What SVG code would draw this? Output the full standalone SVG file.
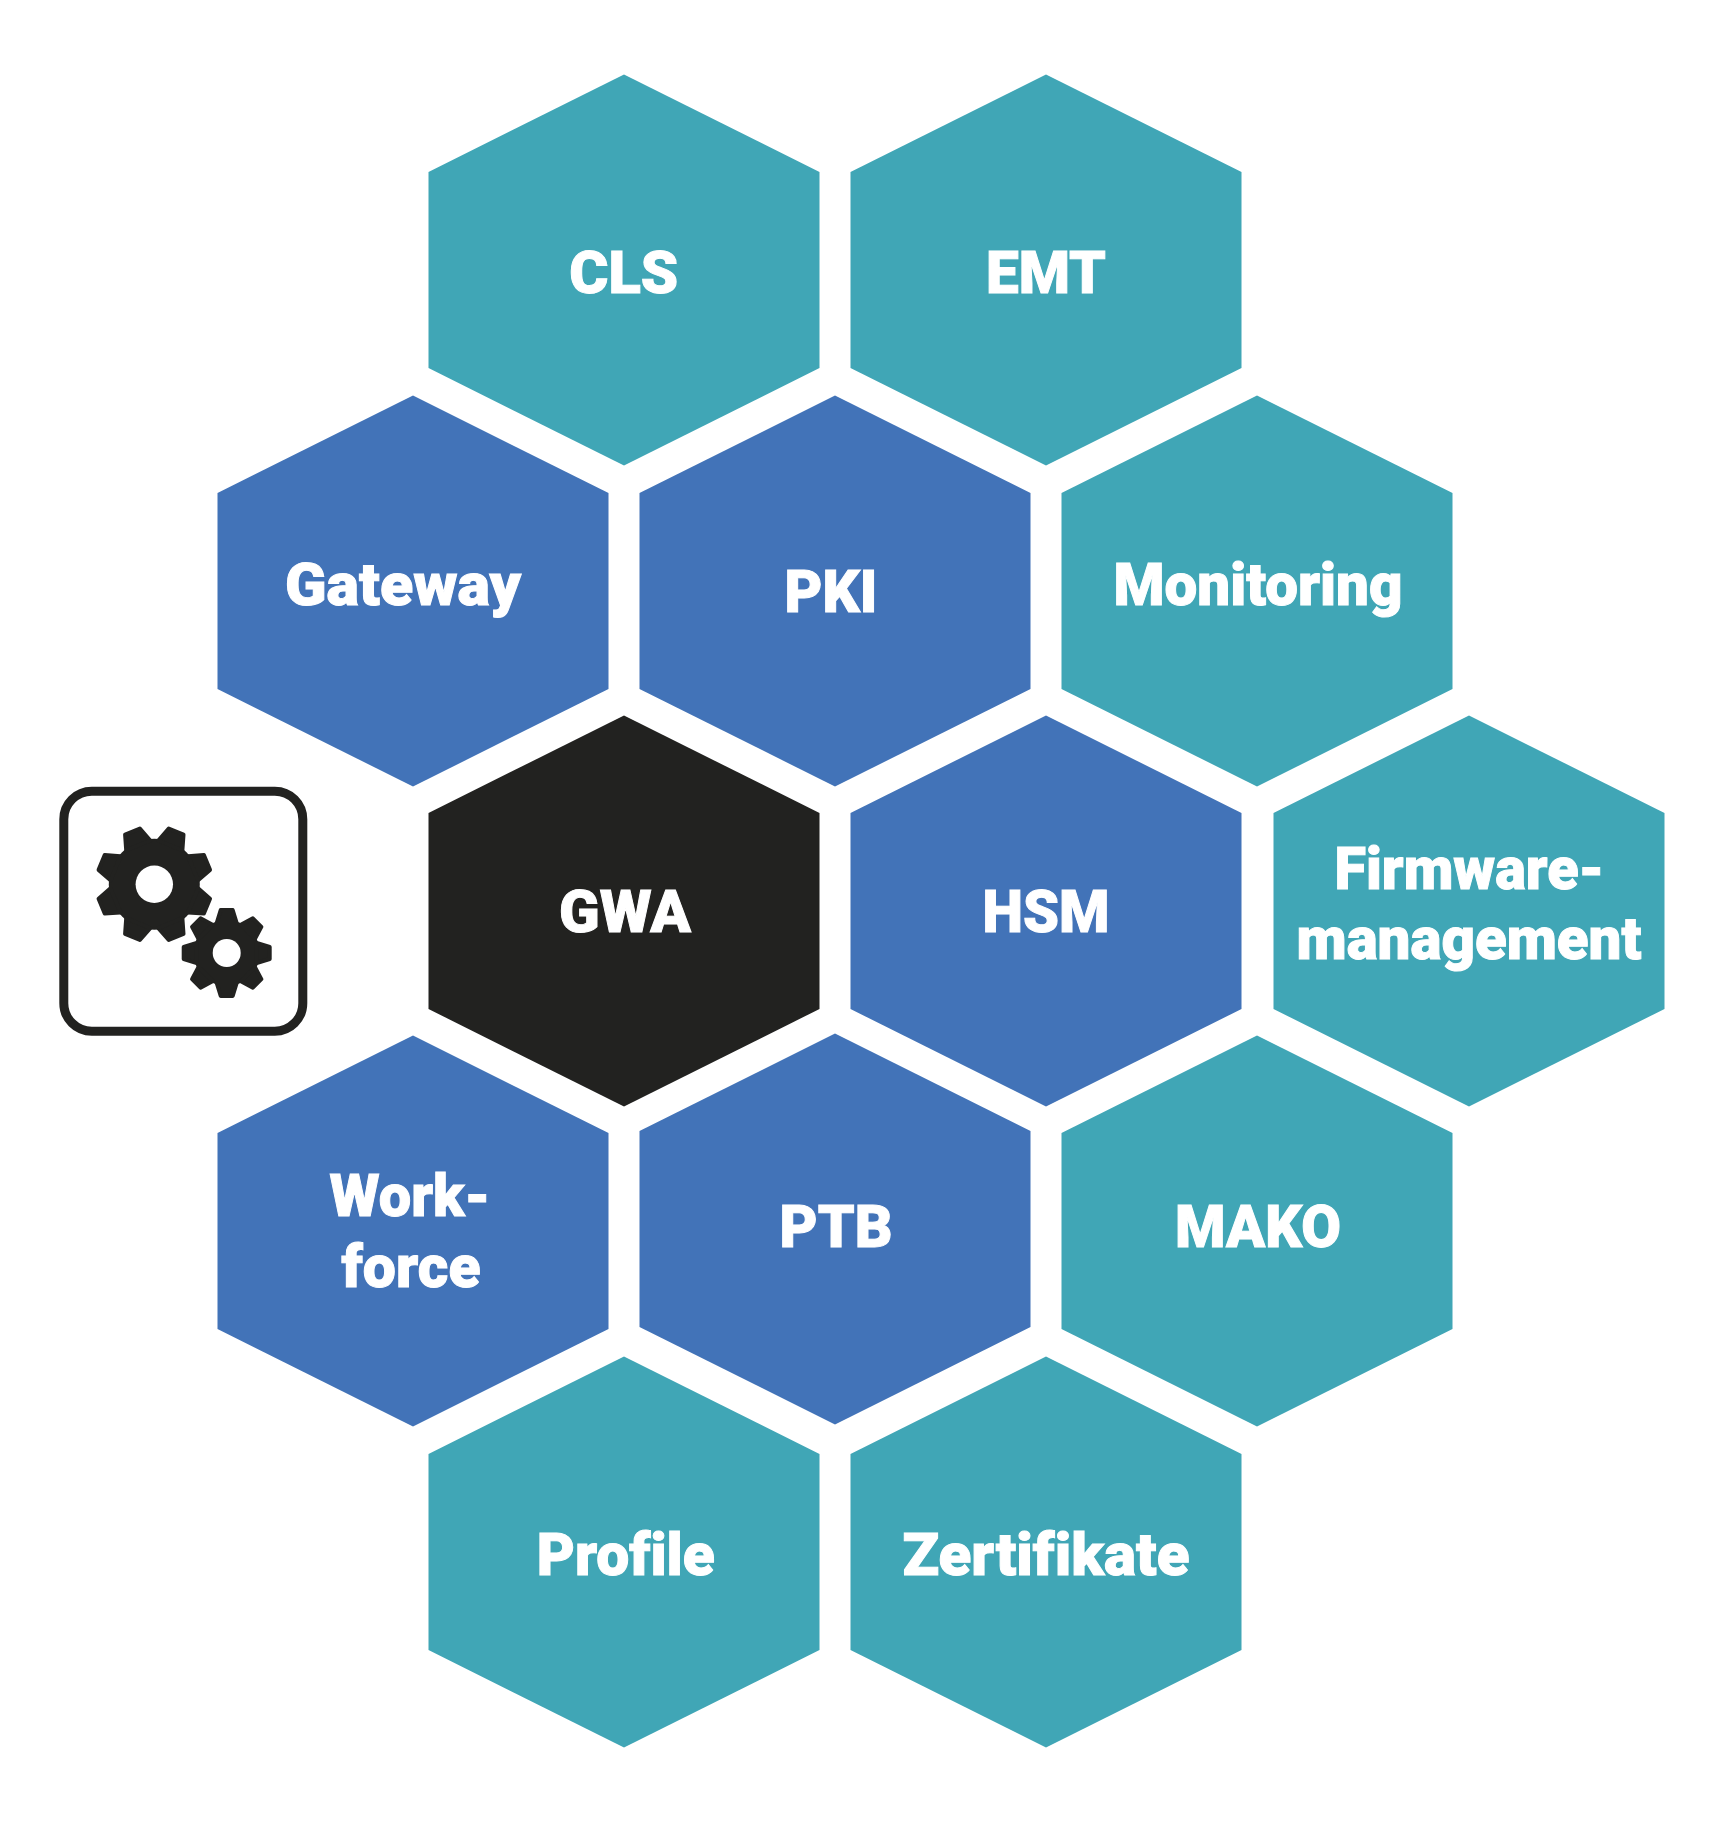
<svg xmlns="http://www.w3.org/2000/svg" width="1724" height="1821" viewBox="0 0 1724 1821">
<style>
.teal{fill:#40a6b6}
.blue{fill:#4273b8}
.dark{fill:#222220}
text{font-family:"Roboto","Liberation Sans",sans-serif;font-weight:900;font-size:60px;fill:#fff;stroke:#fff;stroke-width:1;text-anchor:middle;font-variant-ligatures:none}
.ink{fill:#222220;stroke:#222220;stroke-width:4;stroke-linejoin:round}
</style>
<defs>
<polygon id="hex" points="0,-195.5 195.5,-98 195.5,98 0,195.5 -195.5,98 -195.5,-98"/>
<path id="tooth-a" d="M-13,-42L-8,-57L8,-57L13,-42Z"/>
<path id="tooth-b" d="M-10,-30L-6,-43L6,-43L10,-30Z"/>
</defs>
<rect width="1724" height="1821" fill="#fff"/>
<g id="node-cls"><use href="#hex" x="624" y="270" class="teal"/><text x="623.7" y="292.7" textLength="109" lengthAdjust="spacingAndGlyphs">CLS</text></g>
<g id="node-emt"><use href="#hex" x="1046" y="270" class="teal"/><text x="1046" y="292.7" textLength="120" lengthAdjust="spacingAndGlyphs">EMT</text></g>
<g id="node-gateway"><use href="#hex" x="413" y="591" class="blue"/><text x="403" y="605.3" textLength="236" lengthAdjust="spacingAndGlyphs">Gateway</text></g>
<g id="node-pki"><use href="#hex" x="835" y="591" class="blue"/><text x="831" y="611.7" textLength="93" lengthAdjust="spacingAndGlyphs">PKI</text></g>
<g id="node-monitoring"><use href="#hex" x="1257" y="591" class="teal"/><text x="1258" y="605.3" textLength="289" lengthAdjust="spacingAndGlyphs">Monitoring</text></g>
<g id="node-gwa"><use href="#hex" x="624" y="911" class="dark"/><text x="625" y="931.7" textLength="132" lengthAdjust="spacingAndGlyphs">GWA</text></g>
<g id="node-hsm"><use href="#hex" x="1046" y="911" class="blue"/><text x="1046" y="931.7" textLength="127" lengthAdjust="spacingAndGlyphs">HSM</text></g>
<g id="node-firmware"><use href="#hex" x="1469" y="911" class="teal"/><text x="1469.5" y="889" textLength="270" lengthAdjust="spacingAndGlyphs">Firmware-</text><text x="1469" y="959.3" textLength="345" lengthAdjust="spacingAndGlyphs">management</text></g>
<g id="node-workforce"><use href="#hex" x="413" y="1231" class="blue"/><text x="410" y="1215.7" textLength="161" lengthAdjust="spacingAndGlyphs">Work-</text><text x="411" y="1286.7" textLength="139" lengthAdjust="spacingAndGlyphs">force</text></g>
<g id="node-ptb"><use href="#hex" x="835" y="1229" class="blue"/><text x="836" y="1246.7" textLength="113" lengthAdjust="spacingAndGlyphs">PTB</text></g>
<g id="node-mako"><use href="#hex" x="1257" y="1231" class="teal"/><text x="1258" y="1246.7" textLength="166" lengthAdjust="spacingAndGlyphs">MAKO</text></g>
<g id="node-profile"><use href="#hex" x="624" y="1552" class="teal"/><text x="625.7" y="1574.7" textLength="178" lengthAdjust="spacingAndGlyphs">Profile</text></g>
<g id="node-zertifikate"><use href="#hex" x="1046" y="1552" class="teal"/><text x="1046" y="1574.7" textLength="287" lengthAdjust="spacingAndGlyphs">Zertifikate</text></g>
<g id="node-gears">
<rect x="63.8" y="791.2" width="239" height="240" rx="28" fill="#fff" stroke="#222220" stroke-width="9"/>
<g transform="translate(154.3 884.3)">
<circle r="45.5" class="dark"/>
<use href="#tooth-a" class="ink" transform="rotate(22.5)"/>
<use href="#tooth-a" class="ink" transform="rotate(67.5)"/>
<use href="#tooth-a" class="ink" transform="rotate(112.5)"/>
<use href="#tooth-a" class="ink" transform="rotate(157.5)"/>
<use href="#tooth-a" class="ink" transform="rotate(202.5)"/>
<use href="#tooth-a" class="ink" transform="rotate(247.5)"/>
<use href="#tooth-a" class="ink" transform="rotate(292.5)"/>
<use href="#tooth-a" class="ink" transform="rotate(337.5)"/>
<circle r="18.7" fill="#fff"/>
</g>
<g transform="translate(226.7 953)">
<circle r="33" class="dark"/>
<use href="#tooth-b" class="ink"/>
<use href="#tooth-b" class="ink" transform="rotate(45)"/>
<use href="#tooth-b" class="ink" transform="rotate(90)"/>
<use href="#tooth-b" class="ink" transform="rotate(135)"/>
<use href="#tooth-b" class="ink" transform="rotate(180)"/>
<use href="#tooth-b" class="ink" transform="rotate(225)"/>
<use href="#tooth-b" class="ink" transform="rotate(270)"/>
<use href="#tooth-b" class="ink" transform="rotate(315)"/>
<circle r="14" fill="#fff"/>
</g>
</g>
</svg>
